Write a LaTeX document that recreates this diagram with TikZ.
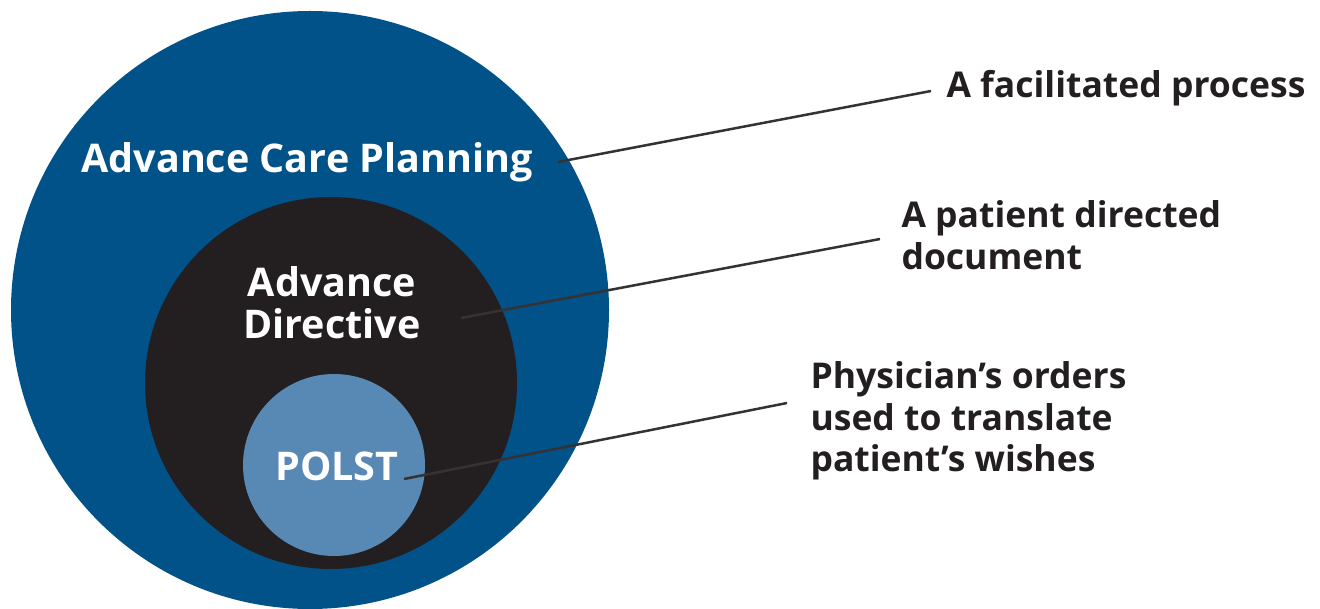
\documentclass[tikz,border=0pt]{standalone}
\usepackage{fontspec}
\setmainfont{Open Sans}
\usetikzlibrary{positioning}
\definecolor{acpblue}{RGB}{2,82,138}
\definecolor{adblack}{RGB}{35,31,32}
\definecolor{leadergray}{RGB}{52,50,51}
\definecolor{polstblue}{RGB}{88,136,180}
\begin{document}
\begin{tikzpicture}[x=1pt,y=1pt,
  disc/.style={circle,inner sep=0pt,draw=none},
  intext/.style={text=white,font=\bfseries\fontsize{39.5}{42}\selectfont,align=center},
  lbl/.style={text=adblack,font=\bfseries\fontsize{35.5}{41.5}\selectfont,align=left,anchor=west},
  leader/.style={draw=leadergray,line width=2.5pt}]
\useasboundingbox (0,0) rectangle (1320,608);
% the three nested circles
\node [disc,fill=acpblue,minimum size=598pt] (acp) at (310,298) {};
\node [disc,fill=adblack,minimum size=372pt] (ad) at (331,225) {};
\node [disc,fill=polstblue,minimum size=182pt] (polst) at (334,143) {};
\node [intext] (acptext) at (307,446) {Advance Care Planning};
\node [intext] (adtext) at (332,305) {Advance\\Directive};
\node [intext] (polsttext) at (337,142) {POLST};
% labels on the right
\node [lbl] (process) at (943,520) {A facilitated process};
\node [lbl] (document) at (898,373) {A patient directed\\document};
\node [lbl] (orders) at (807,187) {Physician’s orders\\used to translate\\patient’s wishes};
\coordinate (acpend) at (558,446);
\coordinate (adend) at (461,290);
\coordinate (polstend) at (404,129);
\coordinate (processend) at (931,517);
\coordinate (documentend) at (880,369);
\coordinate (ordersend) at (787,205);
\draw [leader] (acpend) -- (processend);
\draw [leader] (adend) -- (documentend);
\draw [leader] (polstend) -- (ordersend);
\end{tikzpicture}
\end{document}
